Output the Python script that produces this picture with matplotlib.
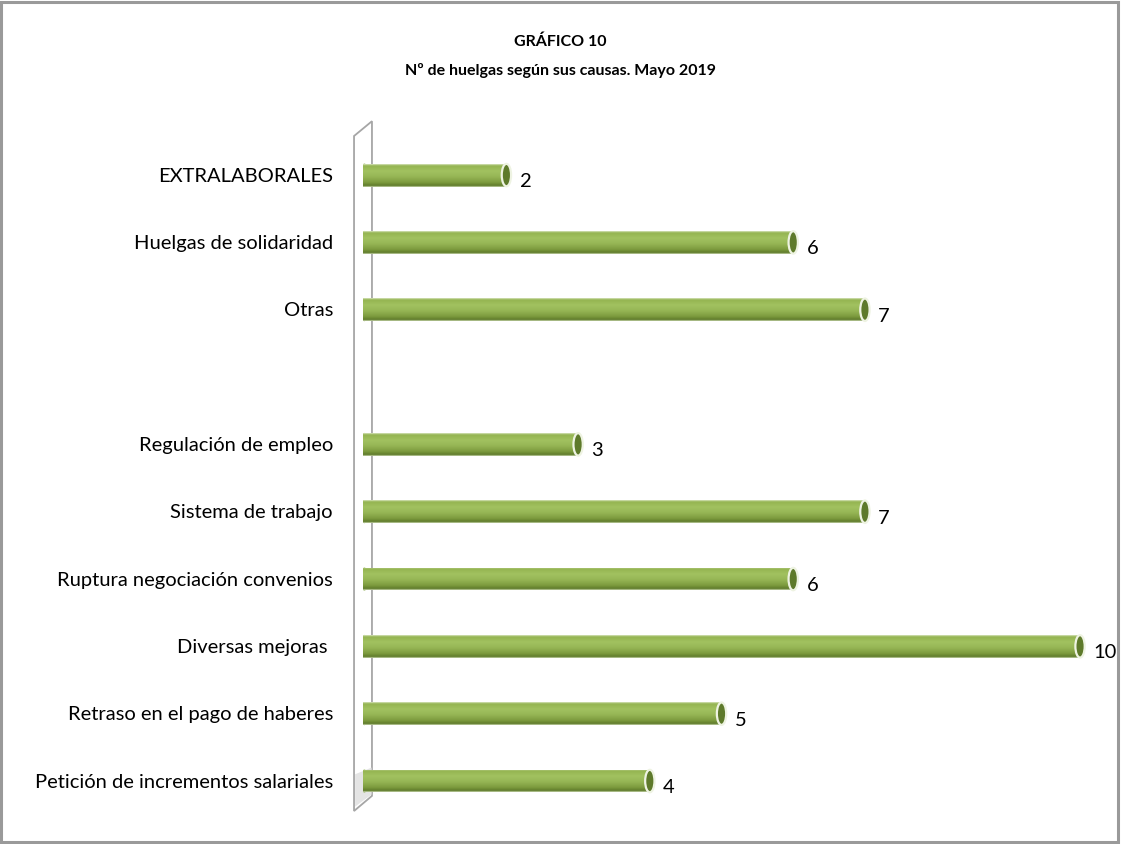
import numpy as np
import matplotlib
matplotlib.use('Agg')
import matplotlib.pyplot as plt
from matplotlib.patches import Ellipse, Polygon, Rectangle
from matplotlib.colors import LinearSegmentedColormap
import matplotlib.transforms as mtransforms

plt.rcParams['font.family'] = ['Lato', 'DejaVu Sans']

# datos (de arriba a abajo); la fila vacía es un hueco del gráfico original
causas = ['EXTRALABORALES', 'Huelgas de solidaridad', 'Otras', '',
          'Regulación de empleo', 'Sistema de trabajo',
          'Ruptura negociación convenios', 'Diversas mejoras ',
          'Retraso en el pago de haberes', 'Petición de incrementos salariales']
huelgas = [2, 6, 7, None, 3, 7, 6, 10, 5, 4]

W, H = 1121, 845
fig = plt.figure(figsize=(W / 100, H / 100), dpi=100)
fig.patch.set_facecolor('white')
fig.patches.append(Rectangle((1.5 / W, 2 / H), (W - 5) / W, (H - 4.5) / H,
                             transform=fig.transFigure, fill=False,
                             edgecolor='#9a9a9a', lw=2.2, zorder=0))

ax = fig.add_axes([363 / W, 29.3 / H, 752.9 / W, 673.3 / H])
ax.set_xlim(0, 10.5)
ax.set_ylim(-9.5, 0.5)
ax.axis('off')

pos = -np.arange(len(causas))
idx = [i for i, v in enumerate(huelgas) if v is not None]
vals = [huelgas[i] for i in idx]
ys = pos[idx]

bar_h = 0.34
bars = ax.barh(ys, vals, height=bar_h, color='#9bbb59', lw=0, zorder=3)

# degradado tipo cilindro
cyl = LinearSegmentedColormap.from_list('cyl', [
    (0.0, '#d5e2b8'), (0.07, '#94b451'), (0.3, '#a2c260'), (0.55, '#96b655'),
    (0.8, '#7d9b3e'), (0.95, '#5f7b2b'), (1.0, '#c9d6ae')])
grad = np.linspace(0, 1, 64).reshape(-1, 1)
for b in bars:
    x0, y0 = b.get_x(), b.get_y()
    im = ax.imshow(grad, cmap=cyl, aspect='auto', interpolation='bilinear',
                   extent=(x0, x0 + b.get_width(), y0, y0 + b.get_height()),
                   origin='upper', zorder=4)
    im.set_clip_path(b)
ax.set_xlim(0, 10.5)
ax.set_ylim(-9.5, 0.5)

# tapas de los cilindros
for v, y in zip(vals, ys):
    ax.add_patch(Ellipse((0.02, y), 0.13, bar_h, facecolor='#8aab4b',
                         edgecolor='none', zorder=3))
    ax.add_patch(Ellipse((v, y), 0.13, bar_h * 0.98, facecolor='#5e7a2b',
                         edgecolor='#eef3e2', lw=1.6, zorder=5))
    ax.annotate(str(v), (v, y), xytext=(9.5, -4), textcoords='offset points',
                ha='left', va='center', fontsize=14.5, color='black')

# pared lateral 3D
tr = mtransforms.blended_transform_factory(ax.transData, ax.transAxes)
wall = Polygon([(-0.125, 1.008), (0.125, 1.030), (0.125, 0.028), (-0.125, 0.0055)],
               closed=True, transform=tr, facecolor='white', edgecolor='#a6a6a6',
               lw=1.3, zorder=1, clip_on=False)
ax.add_patch(wall)
shade = Polygon([(-0.11, 0.06), (0.12, 0.07), (0.12, 0.03), (-0.11, 0.012)],
                closed=True, transform=tr, facecolor='#e4e4e4', edgecolor='none',
                zorder=1.5, clip_on=False)
ax.add_patch(shade)

# etiquetas de categoría
for lab, y in zip(causas, pos):
    ax.text(-30 / 71.7, y, lab, ha='right', va='center', fontsize=14.5,
            color='black')

fig.text(0.5, 1 - 42 / H, 'GRÁFICO 10', ha='center', va='center',
         fontsize=11.5, fontweight='bold')
fig.text(0.5, 1 - 70 / H, 'Nº de huelgas según sus causas. Mayo 2019',
         ha='center', va='center', fontsize=11.5, fontweight='bold')

fig.savefig('out.png', dpi=100, facecolor='white')
